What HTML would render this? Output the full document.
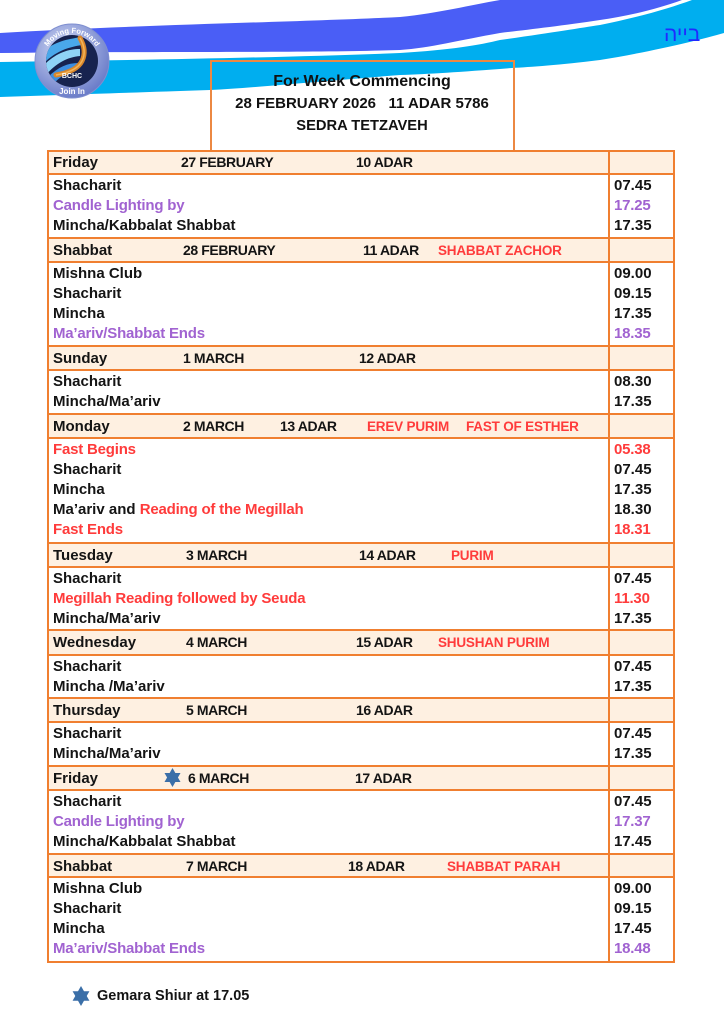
<!DOCTYPE html>
<html><head><meta charset="utf-8">
<style>
body{margin:0;width:724px;height:1024px;position:relative;overflow:hidden;background:#fff;font-family:"Liberation Sans",Arial,sans-serif;color:#141414}
.t{position:absolute;white-space:nowrap;font-weight:bold;font-size:15px;line-height:20px}
.h{line-height:23px}
.c{font-size:14px;letter-spacing:-0.4px}
.rc{color:#ff3b3b;font-weight:bold;font-size:13.5px;letter-spacing:-0.2px}
.r{color:#ff3b3b;letter-spacing:-0.2px}
.p{color:#a163d1;letter-spacing:-0.2px}
.hl{position:absolute;left:47px;width:628px;height:2px;background:#f07f30}
.vl{position:absolute;top:150px;width:2px;height:813px;background:#f07f30}
.bg{position:absolute;left:48px;width:626px;background:#fef0e1}
.hd{position:absolute;left:0;width:724px;text-align:center;font-weight:bold;white-space:nowrap;color:#111}
</style></head><body>

<svg style="position:absolute;left:0;top:0" width="724" height="110" viewBox="0 0 724 110">
<path d="M0,33 C130,25 300,22 400,17 C440,13 470,5 500,0 L682,0 C660,8 630,16 600,20 C560,26 525,30 500,33 C460,40 430,48 400,50 C300,53 200,51 0,53 Z" fill="#4a5ef6"/>
<path d="M0,62 C150,60 300,57 400,53 C450,50 480,45 500,40 C550,33 580,28 600,25 C640,17 670,8 692,0 L724,0 L724,33 C700,40 650,52 600,60 C560,65 530,67 512,68 C460,72 430,74 400,75 C300,83 250,88 210,90 C120,93 60,95 0,97 Z" fill="#00aeef"/>
</svg>

<div style="position:absolute;left:664px;top:21px;font-size:21px;line-height:28px;color:#1f2bff;font-family:'Liberation Sans','DejaVu Sans',sans-serif;direction:rtl">בייה</div>

<svg style="position:absolute;left:34px;top:23px" width="76" height="76" viewBox="0 0 76 76">
<defs>
<radialGradient id="rg" cx="40%" cy="35%" r="70%"><stop offset="0" stop-color="#d4dcf6"/><stop offset="1" stop-color="#6577c6"/></radialGradient>
<clipPath id="ic"><circle cx="38" cy="38" r="26"/></clipPath>
<path id="ta" d="M10,38 A28,28 0 0 1 66,38"/>
</defs>
<circle cx="38" cy="38" r="37" fill="url(#rg)" stroke="#7f8fd0" stroke-width="1"/>
<circle cx="38" cy="38" r="26" fill="#17234f"/>
<g clip-path="url(#ic)">
<path d="M8,30 C20,18 35,16 48,14 L48,22 C35,24 22,28 10,40 Z" fill="#4aa8ea"/>
<path d="M10,42 C22,30 34,26 46,26 L46,33 C34,34 22,40 12,52 Z" fill="#8fd3f6"/>
<path d="M14,54 C24,44 34,40 44,40 L44,46 C34,48 26,54 18,62 Z" fill="#3d8ee0"/>
</g>
<path d="M22,52 C34,50 44,46 48,38 C52,30 50,22 46,15" fill="none" stroke="#d9862a" stroke-width="5" stroke-linecap="round"/>
<path d="M22,52 C34,50 44,46 48,38 C52,30 50,22 46,15" fill="none" stroke="#f2b45a" stroke-width="1.5"/>
<text font-family="Liberation Sans,sans-serif" font-size="7.5" font-weight="bold" fill="#fff"><textPath href="#ta" startOffset="50%" text-anchor="middle">Moving Forward</textPath></text>
<text x="38" y="55" font-family="Liberation Sans,sans-serif" font-size="7" font-weight="bold" fill="#fff" text-anchor="middle">BCHC</text>
<text x="38" y="71" font-family="Liberation Sans,sans-serif" font-size="8" font-weight="bold" fill="#fff" text-anchor="middle">Join In</text>
</svg>

<div style="position:absolute;left:210px;top:60px;width:301px;height:92px;border:2px solid #ec8842;border-bottom:none"></div>
<div class="hd" style="left:0;top:72px;font-size:16px;line-height:20px">For Week Commencing</div>
<div class="hd" style="top:94px;font-size:15px;line-height:20px;white-space:pre">28 FEBRUARY 2026   11 ADAR 5786</div>
<div class="hd" style="top:116px;font-size:14.7px;line-height:20px">SEDRA TETZAVEH</div>

<!-- header backgrounds -->
<div class="bg" style="top:151px;height:23px"></div>
<div class="bg" style="top:238px;height:24px"></div>
<div class="bg" style="top:346px;height:24px"></div>
<div class="bg" style="top:414px;height:24px"></div>
<div class="bg" style="top:543px;height:24px"></div>
<div class="bg" style="top:630px;height:25px"></div>
<div class="bg" style="top:698px;height:24px"></div>
<div class="bg" style="top:766px;height:24px"></div>
<div class="bg" style="top:854px;height:23px"></div>

<!-- lines -->
<div class="hl" style="top:150px"></div>
<div class="hl" style="top:173px"></div>
<div class="hl" style="top:237px"></div>
<div class="hl" style="top:261px"></div>
<div class="hl" style="top:345px"></div>
<div class="hl" style="top:369px"></div>
<div class="hl" style="top:413px"></div>
<div class="hl" style="top:437px"></div>
<div class="hl" style="top:542px"></div>
<div class="hl" style="top:566px"></div>
<div class="hl" style="top:629px"></div>
<div class="hl" style="top:654px"></div>
<div class="hl" style="top:697px"></div>
<div class="hl" style="top:721px"></div>
<div class="hl" style="top:765px"></div>
<div class="hl" style="top:789px"></div>
<div class="hl" style="top:853px"></div>
<div class="hl" style="top:876px"></div>
<div class="hl" style="top:961px"></div>
<div class="vl" style="left:47px"></div>
<div class="vl" style="left:608px"></div>
<div class="vl" style="left:673px"></div>

<!-- Friday -->
<div class="t h" style="left:53px;top:151px">Friday</div>
<div class="t h c" style="left:181px;top:151px">27 FEBRUARY</div>
<div class="t h c" style="left:356px;top:151px">10 ADAR</div>
<div class="t" style="left:53px;top:176px">Shacharit</div>
<div class="t p" style="left:53px;top:196px">Candle Lighting by</div>
<div class="t" style="left:53px;top:216px">Mincha/Kabbalat Shabbat</div>
<div class="t" style="left:614px;top:176px">07.45</div>
<div class="t p" style="left:614px;top:196px">17.25</div>
<div class="t" style="left:614px;top:216px">17.35</div>

<!-- Shabbat -->
<div class="t h" style="left:53px;top:239px">Shabbat</div>
<div class="t h c" style="left:183px;top:239px">28 FEBRUARY</div>
<div class="t h c" style="left:363px;top:239px">11 ADAR</div>
<div class="t h rc" style="left:438px;top:239px">SHABBAT ZACHOR</div>
<div class="t" style="left:53px;top:264px">Mishna Club</div>
<div class="t" style="left:53px;top:284px">Shacharit</div>
<div class="t" style="left:53px;top:304px">Mincha</div>
<div class="t p" style="left:53px;top:324px">Ma’ariv/Shabbat Ends</div>
<div class="t" style="left:614px;top:264px">09.00</div>
<div class="t" style="left:614px;top:284px">09.15</div>
<div class="t" style="left:614px;top:304px">17.35</div>
<div class="t p" style="left:614px;top:324px">18.35</div>

<!-- Sunday -->
<div class="t h" style="left:53px;top:347px">Sunday</div>
<div class="t h c" style="left:183px;top:347px">1 MARCH</div>
<div class="t h c" style="left:359px;top:347px">12 ADAR</div>
<div class="t" style="left:53px;top:372px">Shacharit</div>
<div class="t" style="left:53px;top:392px">Mincha/Ma’ariv</div>
<div class="t" style="left:614px;top:372px">08.30</div>
<div class="t" style="left:614px;top:392px">17.35</div>

<!-- Monday -->
<div class="t h" style="left:53px;top:415px">Monday</div>
<div class="t h c" style="left:183px;top:415px">2 MARCH</div>
<div class="t h c" style="left:280px;top:415px">13 ADAR</div>
<div class="t h rc" style="left:367px;top:415px">EREV PURIM</div>
<div class="t h rc" style="left:466px;top:415px">FAST OF ESTHER</div>
<div class="t r" style="left:53px;top:440px">Fast Begins</div>
<div class="t" style="left:53px;top:460px">Shacharit</div>
<div class="t" style="left:53px;top:480px">Mincha</div>
<div class="t" style="left:53px;top:500px">Ma’ariv and <span style="color:#ff3b3b;letter-spacing:-0.2px">Reading of the Megillah</span></div>
<div class="t r" style="left:53px;top:520px">Fast Ends</div>
<div class="t r" style="left:614px;top:440px">05.38</div>
<div class="t" style="left:614px;top:460px">07.45</div>
<div class="t" style="left:614px;top:480px">17.35</div>
<div class="t" style="left:614px;top:500px">18.30</div>
<div class="t r" style="left:614px;top:520px">18.31</div>

<!-- Tuesday -->
<div class="t h" style="left:53px;top:544px">Tuesday</div>
<div class="t h c" style="left:186px;top:544px">3 MARCH</div>
<div class="t h c" style="left:359px;top:544px">14 ADAR</div>
<div class="t h rc" style="left:451px;top:544px">PURIM</div>
<div class="t" style="left:53px;top:569px">Shacharit</div>
<div class="t r" style="left:53px;top:589px">Megillah Reading followed by Seuda</div>
<div class="t" style="left:53px;top:609px">Mincha/Ma’ariv</div>
<div class="t" style="left:614px;top:569px">07.45</div>
<div class="t r" style="left:614px;top:589px">11.30</div>
<div class="t" style="left:614px;top:609px">17.35</div>

<!-- Wednesday -->
<div class="t h" style="left:53px;top:631px">Wednesday</div>
<div class="t h c" style="left:186px;top:631px">4 MARCH</div>
<div class="t h c" style="left:356px;top:631px">15 ADAR</div>
<div class="t h rc" style="left:438px;top:631px">SHUSHAN PURIM</div>
<div class="t" style="left:53px;top:657px">Shacharit</div>
<div class="t" style="left:53px;top:677px">Mincha /Ma’ariv</div>
<div class="t" style="left:614px;top:657px">07.45</div>
<div class="t" style="left:614px;top:677px">17.35</div>

<!-- Thursday -->
<div class="t h" style="left:53px;top:699px">Thursday</div>
<div class="t h c" style="left:186px;top:699px">5 MARCH</div>
<div class="t h c" style="left:356px;top:699px">16 ADAR</div>
<div class="t" style="left:53px;top:724px">Shacharit</div>
<div class="t" style="left:53px;top:744px">Mincha/Ma’ariv</div>
<div class="t" style="left:614px;top:724px">07.45</div>
<div class="t" style="left:614px;top:744px">17.35</div>

<!-- Friday 2 -->
<div class="t h" style="left:53px;top:767px">Friday</div>
<svg style="position:absolute;left:164px;top:768px" width="17" height="19" viewBox="0 0 17 19"><polygon points="8.5,0 16.5,14 0.5,14" fill="#3b6fa8"/><polygon points="8.5,19 16.5,5 0.5,5" fill="#3b6fa8"/></svg>
<div class="t h c" style="left:188px;top:767px">6 MARCH</div>
<div class="t h c" style="left:355px;top:767px">17 ADAR</div>
<div class="t" style="left:53px;top:792px">Shacharit</div>
<div class="t p" style="left:53px;top:812px">Candle Lighting by</div>
<div class="t" style="left:53px;top:832px">Mincha/Kabbalat Shabbat</div>
<div class="t" style="left:614px;top:792px">07.45</div>
<div class="t p" style="left:614px;top:812px">17.37</div>
<div class="t" style="left:614px;top:832px">17.45</div>

<!-- Shabbat 2 -->
<div class="t h" style="left:53px;top:855px">Shabbat</div>
<div class="t h c" style="left:186px;top:855px">7 MARCH</div>
<div class="t h c" style="left:348px;top:855px">18 ADAR</div>
<div class="t h rc" style="left:447px;top:855px">SHABBAT PARAH</div>
<div class="t" style="left:53px;top:879px">Mishna Club</div>
<div class="t" style="left:53px;top:899px">Shacharit</div>
<div class="t" style="left:53px;top:919px">Mincha</div>
<div class="t p" style="left:53px;top:939px">Ma’ariv/Shabbat Ends</div>
<div class="t" style="left:614px;top:879px">09.00</div>
<div class="t" style="left:614px;top:899px">09.15</div>
<div class="t" style="left:614px;top:919px">17.45</div>
<div class="t p" style="left:614px;top:939px">18.48</div>

<!-- footer -->
<svg style="position:absolute;left:72px;top:986px" width="18" height="20" viewBox="0 0 17 19"><polygon points="8.5,0 16.5,14 0.5,14" fill="#3b6fa8"/><polygon points="8.5,19 16.5,5 0.5,5" fill="#3b6fa8"/></svg>
<div class="t" style="left:97px;top:986px;font-size:14.5px">Gemara Shiur at 17.05</div>

</body></html>
